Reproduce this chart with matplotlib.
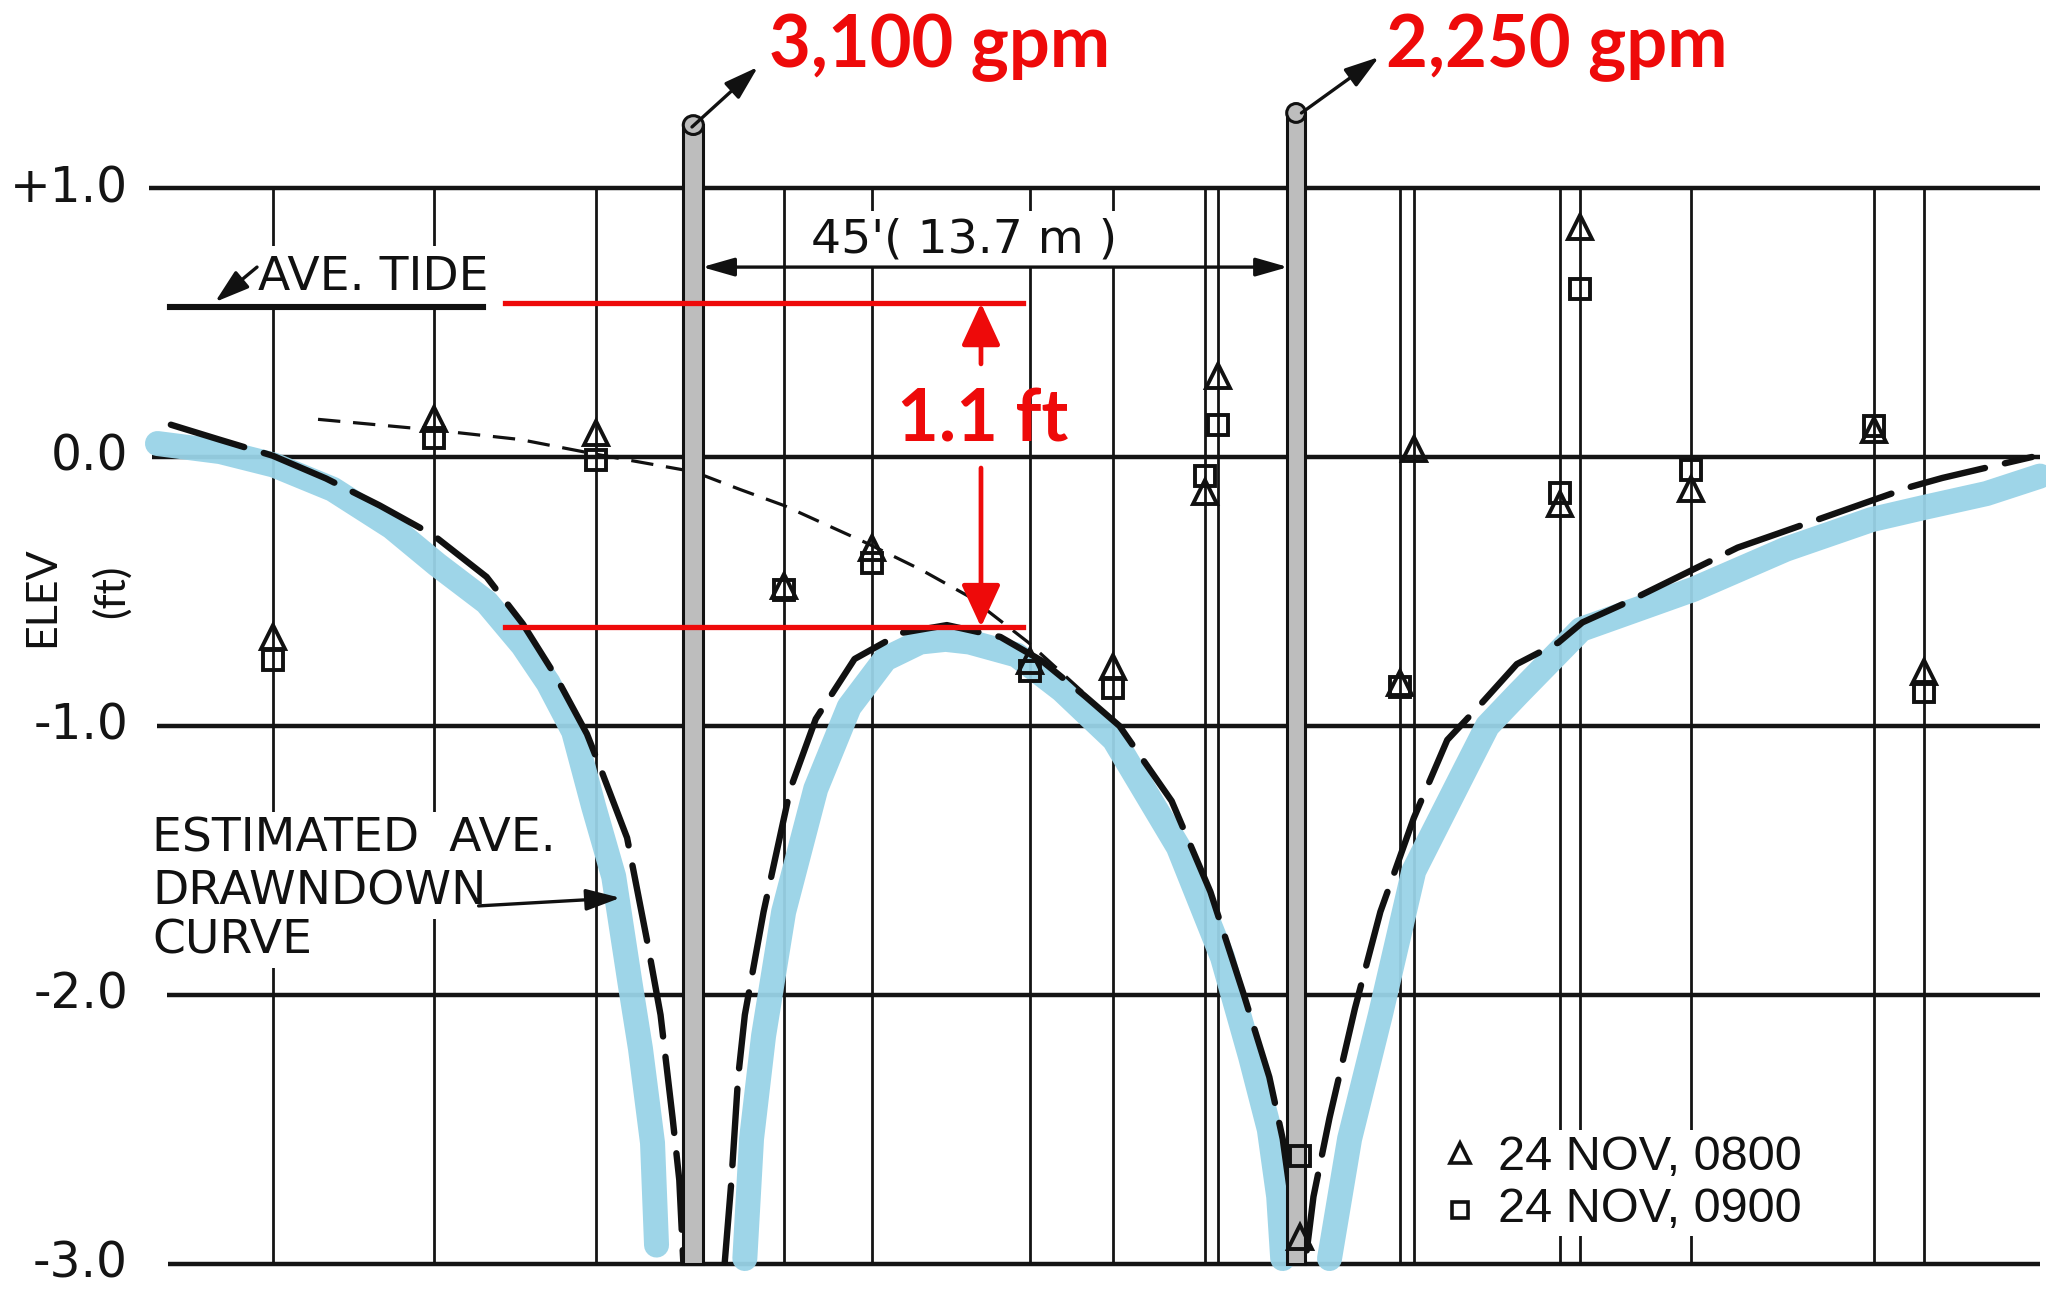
import matplotlib
matplotlib.use('Agg')
import matplotlib.pyplot as plt
from matplotlib.patches import Rectangle, Ellipse

# ---------------- data (x in ft from the 3,100 gpm well, y = elevation in ft) ----------------
y_ticks = [1.0, 0.0, -1.0, -2.0, -3.0]
y_tick_labels = ['+1.0', '0.0', '-1.0', '-2.0', '-3.0']
hline_start = [-40.7, -40.5, -40.1, -39.4, -39.3]
hline_end = 100.6

obs_x = [-31.5, -19.4, -7.3, 6.7, 13.3, 25.1, 31.3, 38.2, 39.2,
         52.8, 53.8, 64.7, 66.2, 74.5, 88.2, 91.9]

tri_x = [-31.5, -19.4, -7.3, 6.7, 13.3, 25.1, 31.3, 38.2, 39.2, 45.3,
         52.8, 53.8, 64.7, 66.2, 74.5, 88.2, 91.9]
tri_y = [-0.67, 0.14, 0.09, -0.48, -0.34, -0.76, -0.78, -0.13, 0.30, -2.90,
         -0.84, 0.03, -0.175, 0.855, -0.12, 0.10, -0.80]
sq_x = [-31.5, -19.4, -7.3, 6.7, 13.3, 25.1, 31.3, 38.2, 39.2, 45.3,
        52.8, 64.7, 66.2, 74.5, 88.2, 91.9]
sq_y = [-0.755, 0.07, -0.01, -0.495, -0.395, -0.795, -0.86, -0.07, 0.12, -2.60,
        -0.855, -0.135, 0.625, -0.05, 0.115, -0.875]

# estimated average drawdown curve (long dashes)
dd_left_x = [-39.1, -35.5, -31.5, -27.5, -23.5, -19.5, -15.5, -12.8, -10.3, -8.0,
             -7.0, -5.0, -3.5, -2.5, -1.6, -1.1, -0.8]
dd_left_y = [0.12, 0.065, 0.005, -0.08, -0.18, -0.29, -0.446, -0.62, -0.818, -1.03,
             -1.156, -1.416, -1.80, -2.074, -2.457, -2.688, -2.993]
dd_mid_x = [2.3, 2.8, 3.3, 3.8, 5.2, 7.2, 9.1, 12.0, 15.5, 18.9, 22.9, 26.0, 29.2,
            31.8, 35.7, 38.6, 41.1, 43.0, 44.0, 44.6]
dd_mid_y = [-2.993, -2.688, -2.305, -2.074, -1.691, -1.234, -0.974, -0.751, -0.654,
            -0.625, -0.669, -0.758, -0.888, -1.0, -1.279, -1.617, -2.0, -2.305,
            -2.535, -2.75]
dd_right_x = [45.8, 46.3, 47.5, 49.4, 51.3, 53.8, 56.3, 58.6, 61.5, 64.6, 66.4, 69.3,
              78.0, 81.0, 91.0, 93.3, 100.0]
dd_right_y = [-2.95, -2.75, -2.457, -2.05, -1.691, -1.342, -1.052, -0.93, -0.77, -0.69,
              -0.615, -0.55, -0.337, -0.285, -0.11, -0.078, 0.0]

# hand-drawn light-blue curve
bl_left_x = [-40.1, -35.4, -31.4, -27.0, -22.6, -19.2, -15.5, -12.8, -10.9, -9.0,
             -7.5, -6.0, -4.8, -4.0, -3.1, -2.8]
bl_left_y = [0.05, 0.02, -0.03, -0.12, -0.26, -0.40, -0.54, -0.70, -0.84, -1.02,
             -1.30, -1.56, -1.95, -2.2, -2.55, -2.93]
bl_mid_x = [3.8, 4.3, 5.2, 6.7, 9.1, 11.6, 14.3, 16.9, 18.8, 20.6, 24.1, 27.5,
            31.4, 36.2, 39.5, 41.6, 43.0, 43.7, 44.0]
bl_mid_y = [-2.98, -2.535, -2.152, -1.691, -1.234, -0.929, -0.751, -0.688, -0.678,
            -0.688, -0.736, -0.866, -1.05, -1.45, -1.86, -2.23, -2.5, -2.75, -2.98]
bl_right_x = [47.5, 49.0, 51.3, 53.8, 57.7, 59.3, 61.6, 66.3, 74.7, 81.6, 88.0,
              91.9, 96.6, 100.6]
bl_right_y = [-2.98, -2.535, -2.074, -1.539, -1.156, -1.0, -0.88, -0.641, -0.492,
              -0.343, -0.233, -0.188, -0.136, -0.071]

# thin dashed projection of the static level
pr_x = [-28.1, -19.4, -13.0, -7.3, 0.0, 3.4, 6.7, 12.9, 17.0, 20.6, 25.0, 29.2]
pr_y = [0.14, 0.10, 0.065, 0.01, -0.055, -0.12, -0.18, -0.32, -0.42, -0.52, -0.69, -0.88]

# wells: (left, right, top)
wells = [(-0.8, 0.7, 1.234), (44.3, 45.7, 1.279)]
well_labels = ['3,100 gpm', '2,250 gpm']
well_arrow_tail = [(-0.15, 1.227), (45.4, 1.279)]
well_arrow_head = [(4.78, 1.45), (51.2, 1.487)]
well_label_pos = [(5.61, 1.45), (51.7, 1.45)]

ave_tide = 0.558
red_top, red_bot = 0.572, -0.632

# ---------------- figure ----------------
fig = plt.figure(figsize=(20.46, 12.90), dpi=100)
ax = fig.add_axes([0, 0, 1, 1])
ax.set_xlim(-51.87, 101.05)
ax.set_ylim(-3.097, 1.699)
ax.axis('off')

DRAFT = 'DejaVu Sans'
RED = '#ee0a0a'
BLUE = '#99d3e7'
INK = '#141414'

# grid
for yv, xs in zip(y_ticks, hline_start):
    ax.plot([xs, hline_end], [yv, yv], color=INK, lw=3.2, zorder=2,
            solid_capstyle='butt')
for xv in obs_x:
    ax.plot([xv, xv], [-3.0, 1.0], color=INK, lw=2.0, zorder=2)

# tick labels
for yv, lab in zip(y_ticks, y_tick_labels):
    ax.text(-42.3, yv, lab, ha='right', va='center', fontsize=35,
            family=DRAFT, color=INK, zorder=6)

ax.text(-48.7, -0.52, 'ELEV', rotation=90, ha='center', va='center',
        fontsize=31, family='Lato', color='#111111')
ax.text(-43.6, -0.50, '(ft)', rotation=90, ha='center', va='center',
        fontsize=31, family='Lato', color='#111111')

# blue hand-drawn curve
for xs, ys in [(bl_left_x, bl_left_y), (bl_mid_x, bl_mid_y), (bl_right_x, bl_right_y)]:
    ax.plot(xs, ys, color=BLUE, lw=18, solid_capstyle='round',
            solid_joinstyle='round', zorder=4, alpha=0.95)

# estimated drawdown (long dash)
for xs, ys in [(dd_left_x, dd_left_y), (dd_mid_x, dd_mid_y), (dd_right_x, dd_right_y)]:
    ax.plot(xs, ys, color='#111111', lw=4.6, dashes=(12, 3.2), zorder=5,
            dash_capstyle='round', dash_joinstyle='round')

# thin dashed line
ax.plot(pr_x, pr_y, color='#111111', lw=2.3, dashes=(7, 4), zorder=5)

# wells
for (l, r, top), lab, tail, head, lp in zip(wells, well_labels, well_arrow_tail,
                                           well_arrow_head, well_label_pos):
    ax.add_patch(Rectangle((l, -3.0), r - l, top + 3.0, facecolor='#bdbdbd',
                           edgecolor='#111111', lw=2.2, zorder=5))
    ax.add_patch(Ellipse(((l + r) / 2, top), r - l, 0.07, facecolor='#bdbdbd',
                         edgecolor='#111111', lw=2.2, zorder=5))
    ax.annotate('', xy=head, xytext=tail,
                arrowprops=dict(arrowstyle='-|>,head_length=0.7,head_width=0.22',
                                mutation_scale=30, color='#111111', lw=2.4,
                                shrinkA=0, shrinkB=0), zorder=6)
    ax.text(lp[0], lp[1], lab, ha='left', va='baseline', fontsize=52,
            family='Lato', fontweight='bold', color=RED, zorder=8)

# markers
ax.plot(tri_x, tri_y, linestyle='none', marker='^', ms=17, mfc='none',
        mec='#111111', mew=2.8, zorder=6)
ax.plot(sq_x, sq_y, linestyle='none', marker='s', ms=14, mfc='none',
        mec='#111111', mew=2.8, zorder=6)

# AVE. TIDE
ax.plot([-39.2, -15.8], [ave_tide, ave_tide], color='#111111', lw=4.4, zorder=5)
ax.text(-32.6, 0.621, 'AVE. TIDE', ha='left', va='baseline', fontsize=34,
        family=DRAFT, color='#111111', zorder=4,
        bbox=dict(facecolor='white', edgecolor='none', pad=6))
ax.annotate('', xy=(-35.8, 0.576), xytext=(-32.66, 0.706),
            arrowprops=dict(arrowstyle='-|>,head_length=0.7,head_width=0.22',
                            mutation_scale=30, color='#111111', lw=2.4,
                            shrinkA=0, shrinkB=0), zorder=6)

# 45' dimension
ax.annotate('', xy=(0.6, 0.706), xytext=(44.4, 0.706),
            arrowprops=dict(arrowstyle='<|-|>,head_length=0.7,head_width=0.2',
                            mutation_scale=28, color='#111111', lw=2.4,
                            shrinkA=0, shrinkB=0), zorder=6)
ax.text(8.74, 0.762, "45'( 13.7 m )", ha='left', va='baseline', fontsize=34,
        family=DRAFT, color='#111111', zorder=4,
        bbox=dict(facecolor='white', edgecolor='none', pad=4))

# ESTIMATED AVE. DRAWNDOWN CURVE
for txt, yb in [('ESTIMATED  AVE.', -1.467), ('DRAWNDOWN', -1.664), ('CURVE', -1.846)]:
    ax.text(-40.5, yb, txt, ha='left', va='baseline', fontsize=34,
            family=DRAFT, color='#111111', zorder=3,
            bbox=dict(facecolor='white', edgecolor='none', pad=3))
ax.annotate('', xy=(-5.5, -1.639), xytext=(-16.1, -1.669),
            arrowprops=dict(arrowstyle='-|>,head_length=0.7,head_width=0.22',
                            mutation_scale=30, color='#111111', lw=2.4,
                            shrinkA=0, shrinkB=0), zorder=6)

# red annotation: 1.1 ft
ax.plot([-14.1, 24.6], [red_top, red_top], color=RED, lw=3.8, zorder=8)
ax.plot([-14.1, 24.6], [red_bot, red_bot], color=RED, lw=3.8, zorder=8)
ax.annotate('', xy=(21.45, red_top), xytext=(21.45, 0.346),
            arrowprops=dict(arrowstyle='-|>,head_length=0.65,head_width=0.3',
                            mutation_scale=40, color=RED, lw=3.4,
                            shrinkA=0, shrinkB=0), zorder=8)
ax.annotate('', xy=(21.45, red_bot), xytext=(21.45, -0.041),
            arrowprops=dict(arrowstyle='-|>,head_length=0.65,head_width=0.3',
                            mutation_scale=40, color=RED, lw=3.4,
                            shrinkA=0, shrinkB=0), zorder=8)
ax.text(15.17, 0.056, '1.1 ft', ha='left', va='baseline', fontsize=52,
        family='Lato', fontweight='bold', color=RED, zorder=8)

# legend
ax.text(60.1, -2.65, '24 NOV, 0800', ha='left', va='baseline', fontsize=35,
        family='Liberation Sans', color='#111111', zorder=4,
        bbox=dict(facecolor='white', edgecolor='none', pad=3))
ax.text(60.1, -2.844, '24 NOV, 0900', ha='left', va='baseline', fontsize=35,
        family='Liberation Sans', color='#111111', zorder=4,
        bbox=dict(facecolor='white', edgecolor='none', pad=3))
ax.plot([57.25], [-2.587], linestyle='none', marker='^', ms=14, mfc='none',
        mec='#111111', mew=2.6, zorder=6)
ax.plot([57.25], [-2.80], linestyle='none', marker='s', ms=12, mfc='none',
        mec='#111111', mew=2.6, zorder=6)

fig.savefig('out.png', dpi=100, facecolor='white')
